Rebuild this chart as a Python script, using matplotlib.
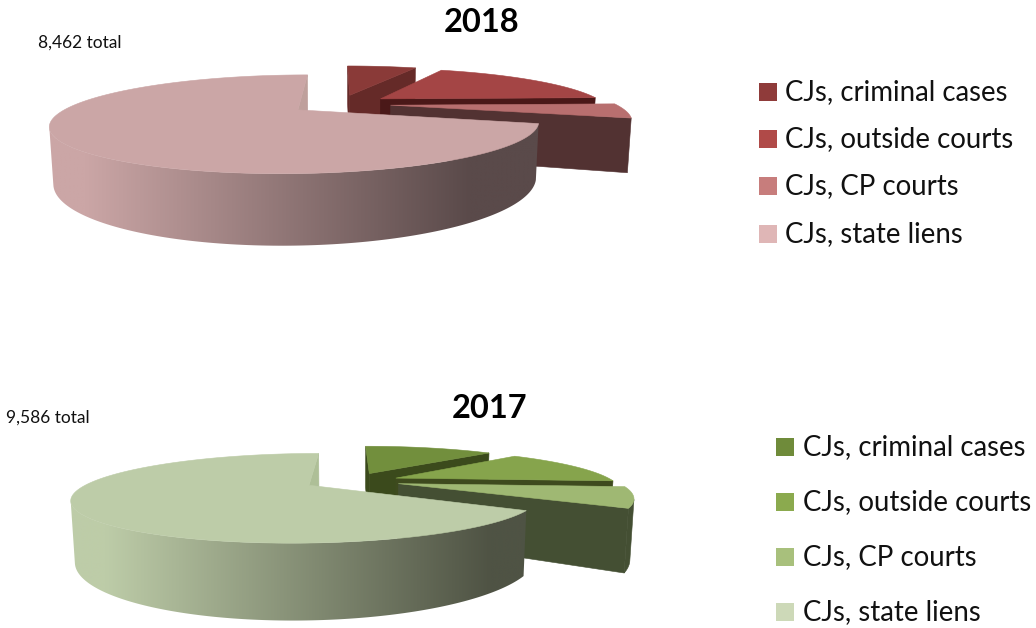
import numpy as np
import matplotlib
matplotlib.use("Agg")
import matplotlib.pyplot as plt
from matplotlib.patches import Polygon, Rectangle
from matplotlib.colors import to_rgb

labels = ["CJs, criminal cases", "CJs, outside courts", "CJs, CP courts", "CJs, state liens"]

# counts (estimates, they sum to the printed totals)
values_2018 = [550, 1523, 423, 5966]
values_2017 = [1200, 1306, 730, 6350]

top_2018 = ["#8A3A38", "#A44545", "#B86F6F", "#CBA6A6"]
wall_2018 = ["#652A28", "#4A1818", "#523232", "#BFA09C"]
side_dark_2018 = "#5A4A4A"
legend_2018 = ["#8F3B3A", "#B04A48", "#C77D7C", "#DFB6B6"]

top_2017 = ["#728F3D", "#86A44C", "#9FB873", "#BDCCA8"]
wall_2017 = ["#3B4A1C", "#3E4A1E", "#444F33", "#AEBF97"]
side_dark_2017 = "#4F5344"
legend_2017 = ["#6F8B3A", "#8BAA4E", "#A8C07C", "#CDD9B8"]


def project(x, y, z, v):
    # simple perspective camera looking down on the pie
    se, ce = np.sin(v["tilt"]), np.cos(v["tilt"])
    d = v["D"] + y * ce - z * se
    sx = v["cx"] + v["F"] * x / d
    sy = v["cy"] - v["F"] * (y * se + z * ce) / d
    return np.column_stack([sx, sy])


def area(p):
    x, y = p[:, 0], p[:, 1]
    return 0.5 * np.sum(x * np.roll(y, -1) - np.roll(x, -1) * y)


def gradient_wall(ax, poly, light, dark, v, zorder):
    # last slice: wall shades from the top colour to dark, left to right
    x0, x1 = poly[:, 0].min() - 2, poly[:, 0].max() + 2
    y0, y1 = poly[:, 1].min() - 2, poly[:, 1].max() + 2
    xs = np.linspace(x0, x1, 500)
    f = np.clip((xs - v["grad0"]) / (v["grad1"] - v["grad0"]), 0, 1)[None, :, None]
    img = np.array(to_rgb(light))[None, None, :] * (1 - f) + np.array(to_rgb(dark))[None, None, :] * f
    im = ax.imshow(img, extent=(x0, x1, y1, y0), aspect="auto", interpolation="bilinear", zorder=zorder)
    clip = Polygon(poly, closed=True, transform=ax.transData)
    im.set_clip_path(clip)


def draw_pie(ax, values, tops, walls, dark, v):
    fr = np.array(values) / sum(values)
    edges = np.concatenate([[0], np.cumsum(fr)]) * 2 * np.pi
    h = v["h"]
    for i in range(len(values)):
        a0, a1 = edges[i], edges[i + 1]
        mid = (a0 + a1) / 2
        ox, oy = v["exp"] * np.sin(mid), v["exp"] * np.cos(mid)
        th = np.linspace(a0, a1, 240)
        rx, ry = ox + np.sin(th), oy + np.cos(th)

        # radial walls, only the ones that face the camera
        for k, (ex, ey) in enumerate([(rx[0], ry[0]), (rx[-1], ry[-1])]):
            quad = np.vstack([
                project(np.array([ox, ex]), np.array([oy, ey]), np.zeros(2), v),
                project(np.array([ex, ox]), np.array([ey, oy]), np.full(2, -h), v),
            ])
            s = area(quad)
            if (k == 0 and s < 0) or (k == 1 and s > 0):
                ax.add_patch(Polygon(quad, closed=True, fc=walls[i], ec=walls[i], lw=0.4, zorder=2 + i * 3))

        # outer wall, the part of the rim that faces the camera
        t_ = project(rx, ry, np.zeros_like(rx), v)
        b_ = project(rx, ry, np.full_like(rx, -h), v)
        facing = [j for j in range(len(th) - 1)
                  if area(np.array([t_[j], t_[j + 1], b_[j + 1], b_[j]])) < 0]
        if facing:
            idx = np.arange(facing[0], facing[-1] + 2)
            wall = np.vstack([t_[idx], b_[idx][::-1]])
            if i == len(values) - 1:
                gradient_wall(ax, wall, tops[i], dark, v, 3 + i * 3)
            else:
                ax.add_patch(Polygon(wall, closed=True, fc=walls[i], ec=walls[i], lw=0.4, zorder=3 + i * 3))

        # top face
        xs = np.concatenate([[ox], rx])
        ys = np.concatenate([[oy], ry])
        pts = project(xs, ys, np.zeros_like(xs), v)
        ax.add_patch(Polygon(pts, closed=True, fc=tops[i], ec=tops[i], lw=0.4, zorder=4 + i * 3))


def draw_legend(ax, colors, sq_x, sq_size, text_x, ys):
    for c, lab, y in zip(colors, labels, ys):
        ax.add_patch(Rectangle((sq_x, y - sq_size / 2), sq_size, sq_size, fc=c, ec="none"))
        ax.text(text_x, y, lab, fontsize=19.9, family="Lato", va="center", ha="left", color="#111111")


fig = plt.figure(figsize=(10.36, 6.28), dpi=100)
ax = fig.add_axes([0, 0, 1, 1])

view_2018 = dict(cx=340, cy=104, F=787, D=3.5, tilt=np.arcsin(0.186), h=0.23, exp=0.225, grad0=85, grad1=470)
view_2017 = dict(cx=352, cy=481, F=760, D=3.5, tilt=np.arcsin(0.178), h=0.258, exp=0.22, grad0=105, grad1=490)

draw_pie(ax, values_2018, top_2018, wall_2018, side_dark_2018, view_2018)
draw_pie(ax, values_2017, top_2017, wall_2017, side_dark_2017, view_2017)

ax.set_xlim(0, 1036)
ax.set_ylim(628, 0)
ax.axis("off")

ax.text(482, 22, "2018", fontsize=23.5, fontweight="bold", family="Lato", ha="center", va="center", color="black")
ax.text(490, 408, "2017", fontsize=23.5, fontweight="bold", family="Lato", ha="center", va="center", color="black")
ax.text(38, 43, "8,462 total", fontsize=12.5, family="Lato", ha="left", va="center", color="#111111")
ax.text(6, 418, "9,586 total", fontsize=12.5, family="Lato", ha="left", va="center", color="#111111")

draw_legend(ax, legend_2018, 759, 18, 785, [92, 139, 186, 234])
draw_legend(ax, legend_2017, 776, 18, 803, [447, 502, 557, 612])

fig.savefig("out.png", dpi=100)
